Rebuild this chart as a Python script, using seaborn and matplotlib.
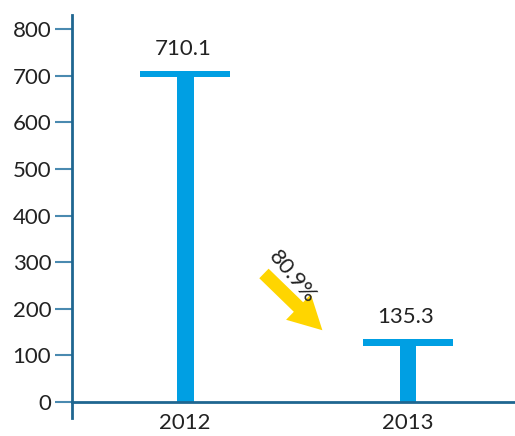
import matplotlib
matplotlib.use("Agg")
import matplotlib.pyplot as plt
import seaborn as sns
import pandas as pd

# data
years = ["2012", "2013"]
values = [710.1, 135.3]
labels = ["710.1", "135.3"]
change_label = "80.9%"

BLUE = "#009fe3"
AXIS = "#1f6690"
TXT = "#222222"

sns.set_style("white")
plt.rcParams["font.family"] = ["Lato", "DejaVu Sans"]

df = pd.DataFrame({"year": years, "value": values})

fig = plt.figure(figsize=(5.15, 4.36), dpi=100)
ax = fig.add_axes([72 / 515, 18 / 436, 443 / 515, 403 / 436])

# stem of the "T"
sns.barplot(data=df, x="year", y="value", color=BLUE, width=0.076,
            saturation=1, linewidth=0, ax=ax)
# cap of the "T"
cap = 14
ax.bar(range(len(values)), [cap] * len(values),
       bottom=[v - cap for v in values], width=0.40, color=BLUE, linewidth=0)

for i, (v, lab) in enumerate(zip(values, labels)):
    ax.text(i - 0.01, v + 25, lab, ha="center", va="bottom",
            fontsize=16, color=TXT)

# drop arrow
ax.annotate("", xy=(0.625, 150), xytext=(0.345, 280),
            arrowprops=dict(arrowstyle="simple,head_width=1.6,head_length=1.5,tail_width=0.6",
                            color="#ffd500", lw=0, mutation_scale=16))
ax.text(0.48, 268, change_label, rotation=-50, ha="center", va="center",
        fontsize=16, color=TXT, rotation_mode="anchor")

ax.set_xlim(-0.507, 1.48)
ax.set_ylim(-34, 830)
ax.set_yticks(range(0, 801, 100))
ax.set_xlabel("")
ax.set_ylabel("")

for s in ["top", "right"]:
    ax.spines[s].set_visible(False)
ax.spines["left"].set_color(AXIS)
ax.spines["left"].set_linewidth(2)
ax.spines["bottom"].set_position(("data", 0))
ax.spines["bottom"].set_color(AXIS)
ax.spines["bottom"].set_linewidth(2)
ax.tick_params(axis="y", left=True, length=12, width=1.5, color="#4a8ab0",
               labelsize=16, labelcolor=TXT, pad=3)
ax.tick_params(axis="x", bottom=False, labelsize=16, labelcolor=TXT, pad=4.5)

fig.savefig("out.png", dpi=100)
